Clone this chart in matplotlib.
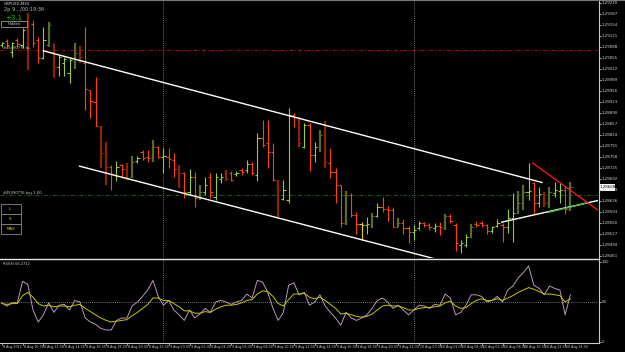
import matplotlib
matplotlib.use("Agg")
import numpy as np
import matplotlib.pyplot as plt
from matplotlib.patches import Rectangle

# 30 minute bars, 8-10 Aug 2012
highs = [1.29105, 1.29112, 1.29105, 1.29115, 1.29145, 1.29190, 1.29170, 1.29118, 1.29150, 1.29165,
         1.29100, 1.29065, 1.29060, 1.29055, 1.29100, 1.29092, 1.29150, 1.28960, 1.28998, 1.28852,
         1.28805, 1.28735, 1.28748, 1.28738, 1.28742, 1.28762, 1.28762, 1.28780, 1.28780, 1.28810,
         1.28792, 1.28785, 1.28785, 1.28772, 1.28735, 1.28715, 1.28722, 1.28715, 1.28675, 1.28698,
         1.28710, 1.28710, 1.28710, 1.28720, 1.28718, 1.28718, 1.28725, 1.28750, 1.28745, 1.28830,
         1.28870, 1.28870, 1.28802, 1.28690, 1.28690, 1.28905, 1.28890, 1.28878, 1.28860, 1.28862,
         1.28805, 1.28840, 1.28868, 1.28785, 1.28725, 1.28675, 1.28657, 1.28650, 1.28595, 1.28565,
         1.28580, 1.28590, 1.28620, 1.28640, 1.28612, 1.28608, 1.28575, 1.28572, 1.28552, 1.28555,
         1.28568, 1.28565, 1.28560, 1.28560, 1.28565, 1.28588, 1.28588, 1.28560, 1.28510, 1.28528,
         1.28558, 1.28568, 1.28568, 1.28558, 1.28552, 1.28572, 1.28560, 1.28602, 1.28650, 1.28658,
         1.28675, 1.28742, 1.28685, 1.28670, 1.28655, 1.28670, 1.28685, 1.28680, 1.28672, 1.28685]
lows = [1.29090, 1.29090, 1.29060, 1.29090, 1.29085, 1.29020, 1.29088, 1.29040, 1.29052, 1.29090,
        1.28997, 1.29002, 1.29002, 1.28980, 1.29022, 1.29040, 1.28900, 1.28875, 1.28852, 1.28725,
        1.28675, 1.28660, 1.28688, 1.28695, 1.28690, 1.28695, 1.28740, 1.28750, 1.28745, 1.28745,
        1.28755, 1.28710, 1.28725, 1.28700, 1.28665, 1.28635, 1.28645, 1.28610, 1.28630, 1.28645,
        1.28635, 1.28630, 1.28682, 1.28688, 1.28688, 1.28702, 1.28705, 1.28710, 1.28705, 1.28688,
        1.28790, 1.28725, 1.28688, 1.28580, 1.28630, 1.28620, 1.28848, 1.28790, 1.28785, 1.28718,
        1.28745, 1.28775, 1.28725, 1.28697, 1.28620, 1.28548, 1.28555, 1.28580, 1.28528, 1.28510,
        1.28528, 1.28545, 1.28580, 1.28595, 1.28568, 1.28548, 1.28548, 1.28528, 1.28500, 1.28510,
        1.28540, 1.28550, 1.28540, 1.28535, 1.28525, 1.28540, 1.28560, 1.28478, 1.28472, 1.28490,
        1.28515, 1.28548, 1.28548, 1.28528, 1.28532, 1.28548, 1.28505, 1.28532, 1.28505, 1.28588,
        1.28600, 1.28630, 1.28588, 1.28610, 1.28608, 1.28605, 1.28640, 1.28620, 1.28588, 1.28598]
opens = [1.29096, 1.29108, 1.29075, 1.29110, 1.29096, 1.29150, 1.29158, 1.29110, 1.29055, 1.29095,
         1.29095, 1.29028, 1.29040, 1.29010, 1.29030, 1.29072, 1.29040, 1.28960, 1.28925, 1.28850,
         1.28770, 1.28730, 1.28705, 1.28735, 1.28722, 1.28700, 1.28748, 1.28775, 1.28760, 1.28755,
         1.28790, 1.28760, 1.28760, 1.28750, 1.28722, 1.28710, 1.28655, 1.28700, 1.28640, 1.28655,
         1.28700, 1.28640, 1.28692, 1.28715, 1.28710, 1.28708, 1.28720, 1.28720, 1.28738, 1.28705,
         1.28815, 1.28800, 1.28775, 1.28688, 1.28632, 1.28630, 1.28885, 1.28870, 1.28790, 1.28855,
         1.28765, 1.28788, 1.28825, 1.28742, 1.28715, 1.28675, 1.28560, 1.28645, 1.28585, 1.28557,
         1.28555, 1.28555, 1.28582, 1.28610, 1.28602, 1.28600, 1.28550, 1.28562, 1.28545, 1.28535,
         1.28545, 1.28560, 1.28555, 1.28545, 1.28552, 1.28545, 1.28582, 1.28555, 1.28495, 1.28495,
         1.28520, 1.28558, 1.28560, 1.28555, 1.28538, 1.28552, 1.28555, 1.28550, 1.28575, 1.28590,
         1.28620, 1.28655, 1.28680, 1.28620, 1.28648, 1.28622, 1.28652, 1.28658, 1.28660, 1.28602]
closes = [1.29100, 1.29096, 1.29100, 1.29098, 1.29140, 1.29085, 1.29100, 1.29057, 1.29110, 1.29155,
          1.29030, 1.29060, 1.29052, 1.29050, 1.29070, 1.29060, 1.28962, 1.28928, 1.28852, 1.28770,
          1.28730, 1.28708, 1.28730, 1.28722, 1.28695, 1.28745, 1.28755, 1.28755, 1.28755, 1.28790,
          1.28760, 1.28762, 1.28752, 1.28722, 1.28710, 1.28655, 1.28700, 1.28635, 1.28655, 1.28675,
          1.28655, 1.28700, 1.28700, 1.28692, 1.28690, 1.28712, 1.28715, 1.28738, 1.28710, 1.28815,
          1.28795, 1.28775, 1.28690, 1.28660, 1.28660, 1.28885, 1.28880, 1.28800, 1.28855, 1.28765,
          1.28788, 1.28825, 1.28745, 1.28715, 1.28675, 1.28560, 1.28645, 1.28585, 1.28557, 1.28555,
          1.28558, 1.28582, 1.28610, 1.28602, 1.28600, 1.28550, 1.28562, 1.28545, 1.28535, 1.28540,
          1.28560, 1.28555, 1.28550, 1.28552, 1.28550, 1.28582, 1.28568, 1.28500, 1.28500, 1.28520,
          1.28550, 1.28555, 1.28555, 1.28538, 1.28548, 1.28560, 1.28550, 1.28575, 1.28590, 1.28620,
          1.28655, 1.28658, 1.28620, 1.28648, 1.28622, 1.28655, 1.28660, 1.28660, 1.28602, 1.28668]
# g/r = plain up/down bar, G/R = heavy (dark) bar, y = neutral
bar_kind = ("grgrgRrrgG" "RgggGRrrrR" "RrgrRGgrrG" "rgrrRrgrGg" "rggRrgrgrg"
            "rrrRggrRgr" "gGRrrrGrry" "gGgrrrGrrg" "grrgrGrrgg" "GrrrggrggG" "GgrgRGggrG")

# oscillator in the lower window
osc_fast = [49, 45, 49, 49, 76, 72, 40, 25, 34, 49, 37, 46, 47, 40, 52, 50, 30, 25, 22, 17,
            15, 15, 27, 30, 30, 45, 50, 57, 65, 77, 57, 46, 52, 40, 34, 27, 40, 30, 35, 42,
            37, 50, 52, 50, 47, 50, 52, 60, 55, 77, 75, 62, 42, 27, 37, 71, 74, 59, 62, 46,
            50, 59, 45, 37, 30, 21, 37, 30, 27, 30, 34, 42, 52, 55, 50, 42, 46, 40, 34, 40,
            46, 45, 42, 47, 46, 60, 55, 34, 37, 46, 59, 59, 57, 50, 52, 57, 50, 65, 70, 80,
            87, 95, 71, 67, 59, 70, 67, 65, 34, 59]
osc_slow = [48, 47, 48, 48, 58, 62, 56, 48, 45, 46, 44, 45, 45, 44, 46, 47, 42, 38, 34, 30,
            27, 25, 26, 27, 28, 33, 37, 42, 47, 55, 55, 52, 52, 48, 44, 39, 39, 36, 36, 38,
            37, 41, 44, 46, 46, 47, 49, 52, 53, 60, 64, 63, 57, 48, 45, 53, 60, 60, 61, 56,
            54, 56, 52, 47, 42, 35, 36, 34, 32, 31, 32, 35, 40, 45, 46, 45, 45, 43, 40, 40,
            42, 43, 43, 44, 45, 49, 51, 45, 42, 43, 48, 52, 54, 52, 52, 54, 52, 55, 58, 62,
            65, 68, 66, 63, 60, 60, 59, 58, 50, 54]

time_labels = ["8 Aug 2012", "8 Aug 10:30", "8 Aug 12:30", "8 Aug 14:30", "8 Aug 16:30",
               "8 Aug 18:30", "8 Aug 20:30", "8 Aug 22:30", "9 Aug 00:30", "9 Aug 02:30",
               "9 Aug 04:30", "9 Aug 06:30", "9 Aug 08:30", "9 Aug 10:30", "9 Aug 12:30",
               "9 Aug 14:30", "9 Aug 16:30", "9 Aug 18:30", "9 Aug 20:30", "9 Aug 22:30",
               "10 Aug 00:30", "10 Aug 02:30", "10 Aug 04:30", "10 Aug 06:30", "10 Aug 08:30",
               "10 Aug 10:30", "10 Aug 12:30", "10 Aug 14:30"]
price_labels = [1.29220, 1.29187, 1.29154, 1.29121, 1.29088, 1.29055, 1.29022, 1.28989,
                1.28956, 1.28923, 1.28890, 1.28857, 1.28824, 1.28791, 1.28758, 1.28725,
                1.28692, 1.28659, 1.28626, 1.28593, 1.28560, 1.28527, 1.28494, 1.28461]
day_breaks = [31, 79]

# drawn objects: (bar, price) anchors
channel_top = [(7.86, 1.29078), (103.7, 1.28682)]
channel_bottom = [(14.8, 1.28732), (83.4, 1.28452)]
support_line = [(95.7, 1.28563), (114.7, 1.28630)]
support_green = [(104.5, 1.28592), (112.2, 1.28621)]
resist_red = [(101.7, 1.28742), (114.7, 1.28595)]
order_red = 1.29079
order_green = 1.28645

W, H = 625, 352
fig = plt.figure(figsize=(W / 100, H / 100), dpi=100, facecolor="black")


def fx(x):
    return x / W


def fy(y):
    return 1 - y / H


def ptext(x, y, s, **kw):
    fig.text(fx(x), fy(y), s, **kw)


ax = fig.add_axes([0, fy(258), fx(598), fy(1) - fy(258)])
axi = fig.add_axes([0, fy(342), fx(598), fy(259) - fy(342)])
for a in (ax, axi):
    a.set_facecolor("black")
    a.set_xticks([])
    a.set_yticks([])
    for s in a.spines.values():
        s.set_visible(False)

x0 = -1.7 / 5.217
x1 = (598 - 1.7) / 5.217
ax.set_xlim(x0, x1)
axi.set_xlim(x0, x1)
ax.set_ylim(1.29200 - 248 * 0.00003, 1.29200 + 9 * 0.00003)
axi.set_ylim(0, 103.75)

col = {"g": "#9ACD32", "G": "#556B2F", "r": "#FF4500", "R": "#8B2500", "y": "#E6D200"}
lw = {"g": 0.8, "G": 1.6, "r": 0.8, "R": 1.6, "y": 0.8}

idx = np.arange(len(highs))
for i in idx:
    k = bar_kind[i]
    ax.vlines(i, lows[i], highs[i], color=col[k], linewidth=lw[k], zorder=3)
    ax.hlines(opens[i], i - 0.42, i, color=col[k], linewidth=0.8, zorder=3)
    ax.hlines(closes[i], i, i + 0.42, color=col[k], linewidth=0.8, zorder=3)

# day separators
for d in day_breaks:
    ax.axvline(d, color="#9a9a9a", linestyle=(0, (1, 1.5)), linewidth=0.6, zorder=1)
    axi.axvline(d, color="#9a9a9a", linestyle=(0, (1, 1.5)), linewidth=0.6, zorder=1)

ax.axhline(order_red, color="#B00000", linestyle=(0, (4, 2, 1, 2)), linewidth=0.7, zorder=2)
ax.axhline(order_green, color="#0A6A0A", linestyle=(0, (4, 2, 1, 2)), linewidth=0.7, zorder=2)


def seg(pts, c, w=1.0):
    ax.plot([p[0] for p in pts], [p[1] for p in pts], color=c, linewidth=w,
            zorder=4, solid_capstyle="butt")


seg(channel_top, "white", 1.0)
seg(channel_bottom, "white", 1.0)
seg(support_line, "white", 1.0)
seg(support_green, "#3CB83C", 1.0)
seg(resist_red, "#FF1A1A", 0.9)

# lower window
axi.axhline(50, color="#9a9a9a", linestyle=(0, (1, 1.5)), linewidth=0.6)
axi.plot(idx, osc_fast, color="#B898B8", linewidth=0.7)
axi.plot(idx, osc_slow, color="#C8C800", linewidth=0.7)

# frame
frame = fig.add_axes([0, 0, 1, 1], facecolor="none")
frame.set_xlim(0, W)
frame.set_ylim(H, 0)
frame.axis("off")
frame.plot([598.5, 598.5], [0, 342.5], color="#c8c8c8", linewidth=0.8)
frame.plot([0, 598.5], [342.5, 342.5], color="#c8c8c8", linewidth=0.8)
frame.plot([0, 598.5], [259, 259], color="#e0e0e0", linewidth=1.0)
frame.plot([0, W], [0.4, 0.4], color="#777777", linewidth=0.8)

# price scale
tc = "#d0d0d0"
for p in price_labels:
    yy = 10 + (1.29200 - p) / 0.00003
    frame.plot([598.5, 601], [yy, yy], color=tc, linewidth=0.5)
    ptext(602, yy, f"{p:.5f}", fontsize=2.9, color=tc, va="center", ha="left")

last = closes[-1]
ly = 10 + (1.29200 - last) / 0.00003
frame.add_patch(Rectangle((599, ly - 3.2), 16, 6.4, facecolor="white", edgecolor="none"))
ptext(600, ly, f"{last:.5f}", fontsize=2.9, color="black", va="center", ha="left")

for v, yy in ((100, 262), (50, 302), (0, 342)):
    frame.plot([598.5, 601], [yy, yy], color=tc, linewidth=0.5)
    ptext(602, yy, str(v), fontsize=2.9, color=tc, va="center", ha="left")

# time scale
for j, lab in enumerate(time_labels):
    xx = 1.7 + 5.217 * 4 * j
    frame.plot([xx, xx], [342.5, 345], color=tc, linewidth=0.5)
    ptext(xx + 1.0, 347, lab, fontsize=2.3, color=tc, va="center", ha="left")

# chart overlays
ptext(4, 4, "GBPUSD,M30", fontsize=2.8, color="#dddddd", va="center")
ptext(4, 10, "2p 9.../00:19:36", fontsize=3.6, color="#bbbbbb", va="center")
ptext(5, 17.5, "+3.1", fontsize=5.0, color="#00D000", va="center")
frame.add_patch(Rectangle((1, 21), 26, 6, facecolor="black", edgecolor="#9a9a9a", linewidth=0.6))
ptext(14, 24, "Hidden", fontsize=2.6, color="#dddddd", va="center", ha="center")
ptext(3, 48, "#45090776 tp", fontsize=2.6, color="#cccccc", va="center")
ptext(3, 193, "#45090776 buy 1.00", fontsize=2.6, color="#cccccc", va="center")
for j, lab in enumerate(["L", "S", "MAX"]):
    top = 204 + 10 * j
    frame.add_patch(Rectangle((1, top), 20, 9.5, facecolor="black", edgecolor="#8a8a8a", linewidth=0.6))
    ptext(11 if lab == "MAX" else 10, top + 4.8, lab, fontsize=2.8, color="#D8D800",
          va="center", ha="center")
ptext(3, 264, "RSI(8) 66.2712", fontsize=2.6, color="#cccccc", va="center")

fig.savefig("out.png", dpi=100, facecolor="black")
